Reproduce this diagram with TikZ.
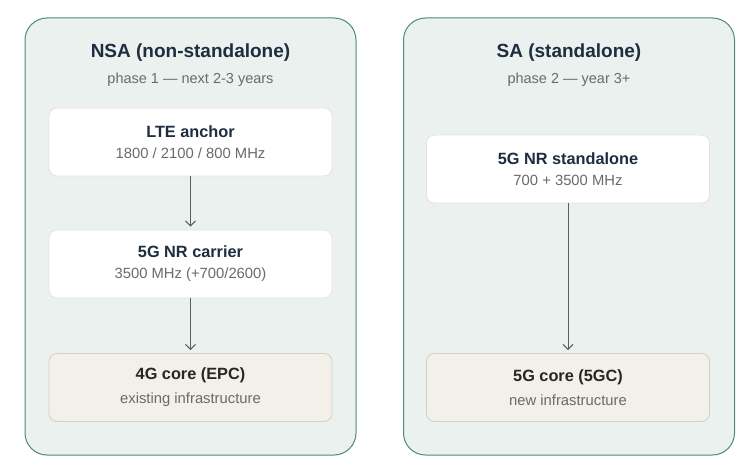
\documentclass[tikz,border=0pt]{standalone}
\usepackage{fontspec}
\setmainfont{Liberation Sans}
\usetikzlibrary{arrows,arrows.meta}

\definecolor{panelfill}{HTML}{EBF1EF}
\definecolor{paneldraw}{HTML}{4F8A78}
\definecolor{boxdraw}{HTML}{E9E3D6}
\definecolor{corefill}{HTML}{F3F0EA}
\definecolor{coredraw}{HTML}{D5CFC3}
\definecolor{navy}{HTML}{1F2D40}
\definecolor{subgray}{HTML}{6A6A6A}
\definecolor{arrowgray}{HTML}{5A5E62}

\newcommand{\ttl}[1]{{\fontsize{16.3}{19}\selectfont\bfseries #1}}
\newcommand{\sub}[1]{{\fontsize{14.8}{17}\selectfont\color{subgray}#1}}

\begin{document}
\begin{tikzpicture}[x=1pt,y=-1pt,
panel/.style={draw=paneldraw, fill=panelfill, line width=1pt, rounded corners=22pt,
  minimum width=331pt, minimum height=437pt},
radio/.style={draw=boxdraw, fill=white, line width=0.8pt, rounded corners=8pt,
  minimum width=283pt, minimum height=68pt, align=center, text=navy},
core/.style={radio, draw=coredraw, fill=corefill, text=black!85},
head/.style={font=\fontsize{19}{22}\selectfont\bfseries, text=navy},
note/.style={font=\fontsize{14.5}{17}\selectfont, text=subgray}]
\useasboundingbox (0,0) rectangle (753,476);
\node[panel] (nsa) at (190.5,236.5) {};
\node[panel] (sa) at (569,236.5) {};
\node[head] (nsatitle) at (190.5,53) {NSA (non-standalone)};
\node[note] (nsaphase) at (190.5,80) {phase 1 --- next 2-3 years};
\node[head] (satitle) at (569,53) {SA (standalone)};
\node[note] (saphase) at (569,80) {phase 2 --- year 3+};
\node[radio] (lte) at (190.5,142) {\ttl{LTE anchor}\\[9pt] \sub{1800 / 2100 / 800 MHz}};
\node[radio] (nr) at (190.5,264) {\ttl{5G NR carrier}\\[9pt] \sub{3500 MHz (+700/2600)}};
\node[core] (epc) at (190.5,387.5) {\ttl{4G core (EPC)}\\[9pt] \sub{existing infrastructure}};
\node[radio] (nrsa) at (568,169) {\ttl{5G NR standalone}\\[9pt] \sub{700 + 3500 MHz}};
\node[core] (fivegc) at (568,387.5) {\ttl{5G core (5GC)}\\[9pt] \sub{new infrastructure}};
\path[-{Straight Barb[length=5pt,width=10pt]}, draw=arrowgray, line width=1pt, shorten >=3pt]
(lte) edge (nr)
(nr) edge (epc)
(nrsa) edge (fivegc);
\end{tikzpicture}
\end{document}
